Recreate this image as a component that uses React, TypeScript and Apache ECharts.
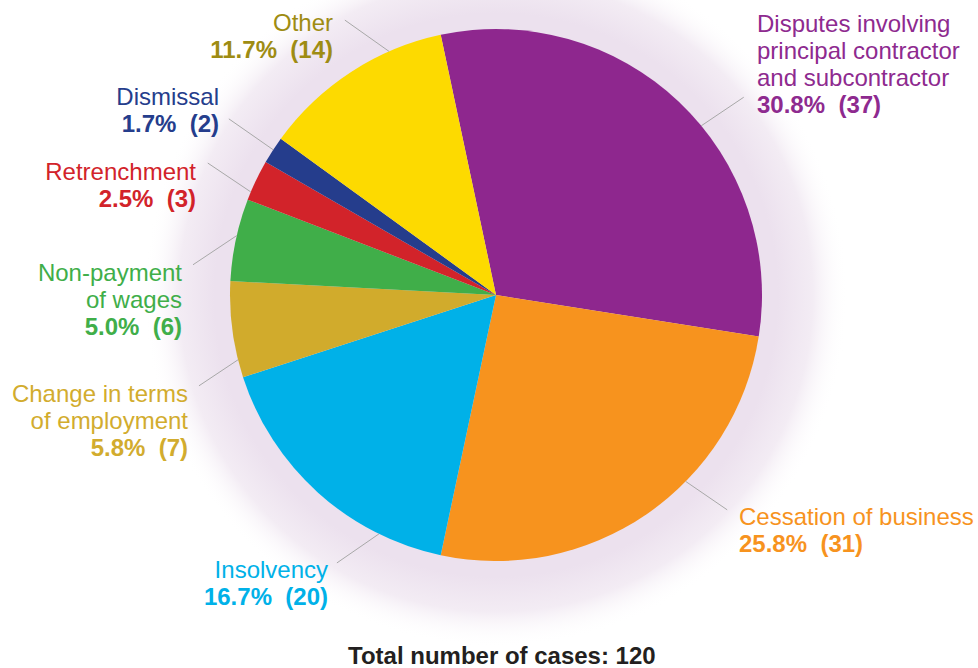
import React, { useEffect, useRef } from "react";
import * as echarts from "echarts";

// ---- Data ----
const categories: string[] = [
  "Disputes involving\nprincipal contractor\nand subcontractor",
  "Cessation of business",
  "Insolvency",
  "Change in terms\nof employment",
  "Non-payment\nof wages",
  "Retrenchment",
  "Dismissal",
  "Other",
];
const caseCounts: number[] = [37, 31, 20, 7, 6, 3, 2, 14];
const totalLabel = "Total number of cases: 120";

// ---- Styles ----
const sliceColors = ["#8E278E", "#F7931E", "#00B1E8", "#D1AB2C", "#40AE49", "#D2232A", "#253D8C", "#FDDA00"];
const labelColors = ["#8E2A8F", "#F7931E", "#00B1E8", "#D2AC2E", "#40AE49", "#D2232A", "#253D8C", "#9E8C13"];

// ---- Layout (label placement and leader lines) ----
const CX = 496;
const CY = 295;
const R = 266;
// edge: angle (deg, math convention) where leader touches the pie; end: [angle, radius] of leader end
const labelLayoutSpec = [
  { edge: 39.5, end: [38.6, 317], x: 757, y: 9.5, align: "left" },
  { edge: 315.5, end: [317.1, 315.6], x: 739, y: 503, align: "left" },
  { edge: 243.9, end: [239.3, 311.6], x: 328, y: 555.5, align: "right" },
  { edge: 194.1, end: [197, 310.6], x: 188, y: 380, align: "right" },
  { edge: 167.1, end: [174.3, 304.5], x: 182, y: 259, align: "right" },
  { edge: 157.2, end: [155.4, 317], x: 196, y: 157.5, align: "right" },
  { edge: 146.9, end: [146.6, 320], x: 219, y: 82.5, align: "right" },
  { edge: 113.7, end: [118.8, 313.7], x: 333, y: 9, align: "right" },
];

const polar = (deg: number, r: number) => {
  const a = (deg * Math.PI) / 180;
  return [CX + r * Math.cos(a), CY - r * Math.sin(a)];
};

export default function App() {
  const ref = useRef<HTMLDivElement>(null);
  useEffect(() => {
    if (!ref.current) return;
    const chart = echarts.init(ref.current, null, { renderer: "svg" });
    const total = caseCounts.reduce((a, b) => a + b, 0);
    const font = "'Liberation Sans', Arial, Helvetica, sans-serif";

    const leaderLines = labelLayoutSpec.map((L) => {
      const [x1, y1] = polar(L.edge, R);
      const [x2, y2] = polar(L.end[0], L.end[1]);
      return {
        type: "line",
        silent: true,
        z: 10,
        shape: { x1, y1, x2, y2 },
        style: { stroke: "#A8A8A8", lineWidth: 1 },
      };
    });

    const option: any = {
      animation: false,
      backgroundColor: "#ffffff",
      title: {
        text: totalLabel,
        left: 343,
        top: 638,
        textStyle: { fontFamily: font, fontSize: 24, fontWeight: "bold", color: "#231F20" },
      },
      graphic: leaderLines,
      series: [
        {
          type: "pie",
          silent: true,
          center: [CX, CY],
          radius: [0, 352],
          label: { show: false },
          labelLine: { show: false },
          data: [
            {
              value: 1,
              itemStyle: {
                color: {
                  type: "radial",
                  x: 0.5,
                  y: 0.5,
                  r: 0.5,
                  colorStops: [
                    { offset: 0, color: "#ECE1EE" },
                    { offset: 0.8, color: "#ECE1EE" },
                    { offset: 0.9, color: "#F3ECF4" },
                    { offset: 1, color: "rgba(255,255,255,0)" },
                  ],
                },
              },
            },
          ],
        },
        {
          type: "pie",
          center: [CX, CY],
          radius: [0, R],
          startAngle: 102,
          clockwise: true,
          avoidLabelOverlap: false,
          itemStyle: { borderWidth: 0 },
          label: {
            show: true,
            position: "outside",
            fontFamily: font,
            formatter: (p: any) => {
              const v = caseCounts[p.dataIndex];
              const pct = ((v / total) * 100).toFixed(1);
              const lines = String(p.name)
                .split("\n")
                .map((s) => `{n|${s}}`);
              lines.push(`{v|${pct}%  (${v})}`);
              return lines.join("\n");
            },
            rich: {
              n: { fontFamily: font, fontSize: 24, fontWeight: "normal", lineHeight: 27 },
              v: { fontFamily: font, fontSize: 24, fontWeight: "bold", lineHeight: 27 },
            },
          },
          labelLine: { show: false },
          labelLayout: (params: any) => {
            const L = labelLayoutSpec[params.dataIndex];
            if (!L) return {};
            return { x: L.x, y: L.y, align: L.align, verticalAlign: "top" };
          },
          data: categories.map((name, i) => ({
            name,
            value: caseCounts[i],
            itemStyle: { color: sliceColors[i] },
            label: { color: labelColors[i] },
          })),
        },
      ],
    };
    chart.setOption(option);
    return () => chart.dispose();
  }, []);

  return (
    <div
      ref={ref}
      style={{ position: "fixed", left: 0, top: 0, width: 978, height: 668, background: "#fff" }}
    />
  );
}
